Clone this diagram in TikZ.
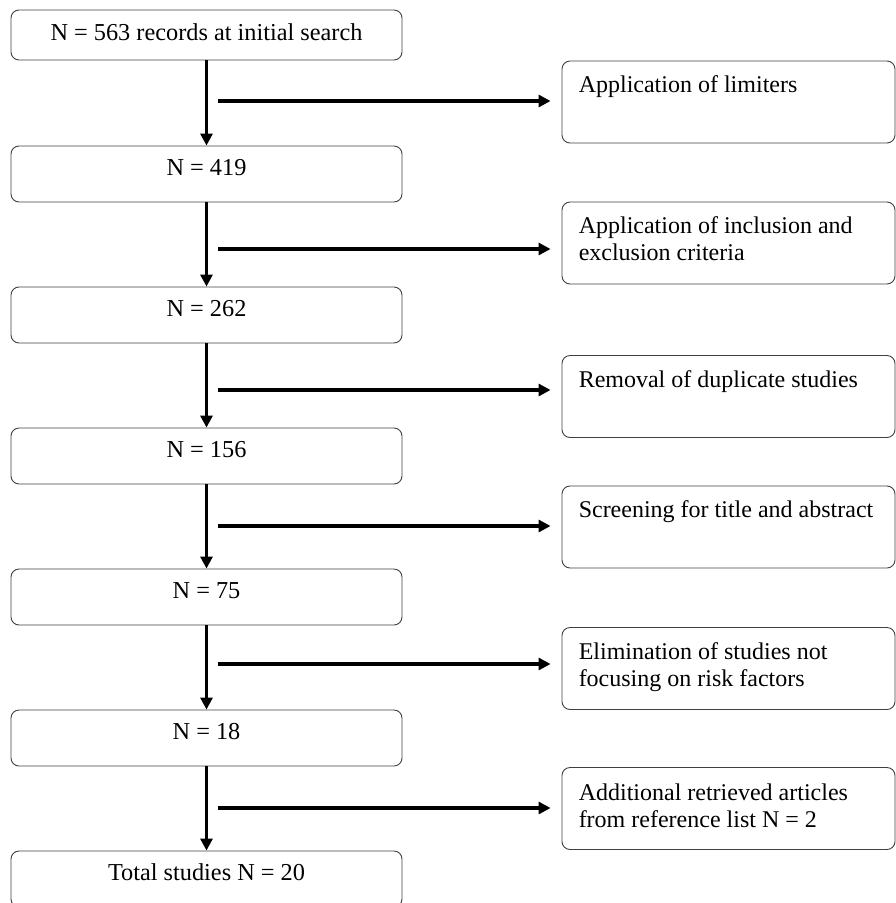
\documentclass[tikz,border=0pt]{standalone}
\usepackage{fontspec}
\setmainfont{Liberation Serif}
\usetikzlibrary{arrows.meta,calc}
\begin{document}
\begin{tikzpicture}[x=1pt,y=-1pt,
  lbox/.style={draw=black!75,line width=0.9pt,rounded corners=8pt,minimum width=391pt,inner sep=0pt,font=\fontsize{24.3}{27}\selectfont},
  lbig/.style={lbox,minimum height=56pt,text height=29pt,text depth=27pt},
  rbox/.style={draw=black!75,line width=0.9pt,rounded corners=8pt,minimum width=333pt,minimum height=82pt,inner sep=0pt},
  rtext/.style={anchor=base west,inner sep=0pt,align=left,font=\fontsize{24}{27}\selectfont},
  arr/.style={line width=3.3pt,-{Triangle[length=12pt,width=12pt]}}]
\useasboundingbox (0,0) rectangle (896,903);
\clip (0,0) rectangle (896,903);
% left boxes
\node[lbox,minimum height=50pt,text height=30pt,text depth=20pt] (l1) at (206.5,35) {N = 563 records at initial search};
\node[lbig] (l2) at (206.5,174) {N = 419};
\node[lbig] (l3) at (206.5,315) {N = 262};
\node[lbig] (l4) at (206.5,456) {N = 156};
\node[lbig] (l5) at (206.5,597) {N = 75};
\node[lbig] (l6) at (206.5,738) {N = 18};
\node[lbig] (l7) at (206.5,879) {Total studies N = 20};
% right boxes
\node[rbox] (r1) at (728.5,102) {};
\node[rbox] (r2) at (728.5,243) {};
\node[rbox] (r3) at (728.5,396.5) {};
\node[rbox] (r4) at (728.5,527) {};
\node[rbox] (r5) at (728.5,668.5) {};
\node[rbox] (r6) at (728.5,808.5) {};
\node[rtext] (t1) at ($(r1.north west)+(17,32)$) {Application of limiters};
\node[rtext] (t2) at ($(r2.north west)+(17,59)$) {Application of inclusion and\\exclusion criteria};
\node[rtext] (t3) at ($(r3.north west)+(17,32)$) {Removal of duplicate studies};
\node[rtext] (t4) at ($(r4.north west)+(17,32)$) {Screening for title and abstract};
\node[rtext] (t5) at ($(r5.north west)+(17,59)$) {Elimination of studies not\\focusing on risk factors};
\node[rtext] (t6) at ($(r6.north west)+(17,60)$) {Additional retrieved articles\\from reference list N = 2};
% vertical arrows
\foreach \a/\b in {l1/l2,l2/l3,l3/l4,l4/l5,l5/l6,l6/l7}
  \draw[arr] (\a.south) -- (\b.north);
% horizontal arrows
\coordinate (h1) at (218,101);
\coordinate (h2) at (218,249);
\coordinate (h3) at (218,390);
\coordinate (h4) at (218,526);
\coordinate (h5) at (218,664);
\coordinate (h6) at (218,808);
\foreach \i in {1,...,6}
  \draw[arr,shorten >=11pt] (h\i) -- (h\i -| r\i.west);
\end{tikzpicture}
\end{document}
